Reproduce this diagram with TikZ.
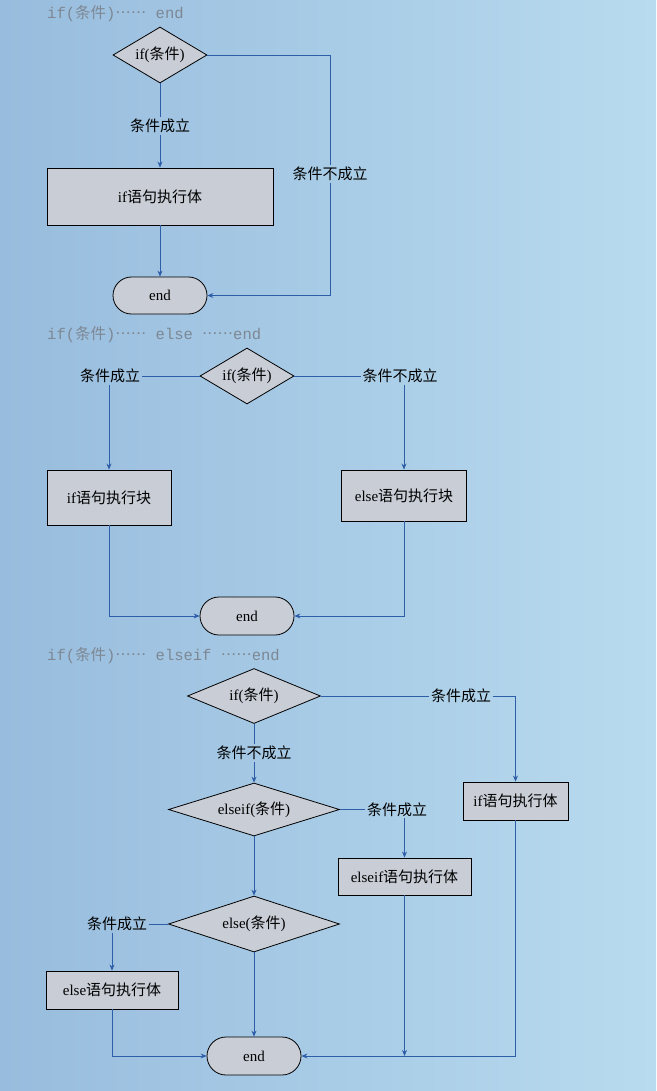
\documentclass[tikz,border=0pt]{standalone}
\usepackage{fontspec}
\setmainfont{Liberation Serif}
\setmonofont{Liberation Mono}
\newfontfamily\cjk{Noto Sans CJK SC}
\newfontfamily\cjkell[Language=Chinese Simplified,RawFeature=+fwid]{Noto Sans CJK SC}
\usetikzlibrary{shapes.geometric,shapes.misc,arrows.meta,calc}
\definecolor{bgL}{HTML}{98BCDD}
\definecolor{bgR}{HTML}{B8DBEF}
\definecolor{nfill}{HTML}{C8CDD6}
\definecolor{lnc}{HTML}{2F5EA8}
\definecolor{ttl}{HTML}{7D8894}
\newcommand{\zh}[1]{{\cjk #1}}
\newcommand{\zhdots}[1]{{\cjkell #1}}
\begin{document}
\begin{tikzpicture}[x=1pt,y=-1pt,
  nfont/.style={font=\fontsize{15}{18}\selectfont},
  dec/.style={diamond, draw=black, fill=nfill, line width=0.8pt, inner sep=0pt, nfont},
  box/.style={rectangle, draw=black, fill=nfill, line width=0.9pt, inner sep=0pt, nfont},
  term/.style={rounded rectangle, draw=black, fill=nfill, line width=0.8pt, inner sep=0pt, nfont},
  lbl/.style={inner sep=1.5pt, nfont},
  ln/.style={draw=lnc, line width=0.7pt},
  arr/.style={ln, -{Stealth[length=6pt,width=5pt]}},
  ttlsty/.style={anchor=west, text=ttl, font=\ttfamily\fontsize{15.5}{18}\selectfont, inner sep=0pt}]
\useasboundingbox (0,0) rectangle (656,1091);
\shade[left color=bgL, right color=bgR] (0,0) rectangle (656,1091);

% ---------- section 1 ----------
\node[ttlsty] (t1) at (47,14) {if(\zh{条件})\zhdots{……} end};
\node[dec, shape aspect=2.2, minimum width=94pt, minimum height=56pt] (a1) at (160,55) {if(\zh{条件})};
\node[lbl] (a1y) at (160,126) {\zh{条件成立}};
\node[box, minimum width=226pt, minimum height=57pt] (a1b) at (160,196.5) {if\zh{语句执行体}};
\node[term, minimum width=94pt, minimum height=37pt] (a1e) at (160,295.5) {end};
\node[lbl] (a1n) at (330,174) {\zh{条件不成立}};
\draw[ln] (a1.south) -- (a1y.north);
\draw[arr] (a1y.south) -- (a1b.north);
\draw[arr] (a1b.south) -- (a1e.north);
\draw[ln] (a1.east) -| (a1n.north);
\draw[arr] (a1n.south) |- (a1e.east);

% ---------- section 2 ----------
\node[ttlsty] (t2) at (47,335) {if(\zh{条件})\zhdots{……} else \zhdots{……}end};
\node[dec, shape aspect=2.2, minimum width=94pt, minimum height=56pt] (b1) at (247,376) {if(\zh{条件})};
\node[lbl] (b1y) at (110,376) {\zh{条件成立}};
\node[lbl] (b1n) at (400,376) {\zh{条件不成立}};
\node[box, minimum width=124pt, minimum height=55pt] (b1b) at (109,497.5) {if\zh{语句执行块}};
\node[box, minimum width=125pt, minimum height=51pt] (b2b) at (404,495.5) {else\zh{语句执行块}};
\node[term, minimum width=94pt, minimum height=38pt] (b1e) at (247,616) {end};
\draw[ln] (b1.west) -- (b1y.east);
\draw[ln] (b1.east) -- (b1n.west);
\draw[arr] (b1y.south -| b1b.north) -- (b1b.north);
\draw[arr] (b1n.south -| b2b.north) -- (b2b.north);
\draw[arr] (b1b.south) |- (b1e.west);
\draw[arr] (b2b.south) |- (b1e.east);

% ---------- section 3 ----------
\node[ttlsty] (t3) at (47,656) {if(\zh{条件})\zhdots{……} elseif \zhdots{……}end};
\node[dec, shape aspect=3, minimum width=133pt, minimum height=55pt] (c1) at (254,696) {if(\zh{条件})};
\node[lbl] (c1y) at (461,696) {\zh{条件成立}};
\node[box, minimum width=105pt, minimum height=38pt] (c1b) at (515.5,801) {if\zh{语句执行体}};
\node[lbl] (c1n) at (254,753) {\zh{条件不成立}};
\node[dec, shape aspect=3.3, minimum width=171pt, minimum height=53pt] (c2) at (254,809.5) {elseif(\zh{条件})};
\node[lbl] (c2y) at (397,809.5) {\zh{条件成立}};
\node[box, minimum width=133pt, minimum height=37pt] (c2b) at (404.5,876.5) {elseif\zh{语句执行体}};
\node[dec, shape aspect=3.1, minimum width=171pt, minimum height=56pt] (c3) at (254,924) {else(\zh{条件})};
\node[lbl] (c3y) at (117,924) {\zh{条件成立}};
\node[box, minimum width=132pt, minimum height=38pt] (c3b) at (112,990) {else\zh{语句执行体}};
\node[term, minimum width=94pt, minimum height=38pt] (c1e) at (254,1056) {end};
\coordinate (c2j) at (404.5,1056);
\draw[ln] (c1.east) -- (c1y.west);
\draw[arr] (c1y.east) -| (c1b.north);
\draw[arr] (c1b.south) |- (c1e.east);
\draw[ln] (c1.south) -- (c1n.north);
\draw[arr] (c1n.south) -- (c2.north);
\draw[ln] (c2.east) -- (c2y.west);
\draw[arr] (c2y.south -| c2b.north) -- (c2b.north);
\draw[arr] (c2b.south) -- (c2j);
\draw[arr] (c2.south) -- (c3.north);
\draw[ln] (c3.west) -- (c3y.east);
\draw[arr] (c3y.south -| c3b.north) -- (c3b.north);
\draw[arr] (c3b.south) |- (c1e.west);
\draw[arr] (c3.south) -- (c1e.north);
\end{tikzpicture}
\end{document}
